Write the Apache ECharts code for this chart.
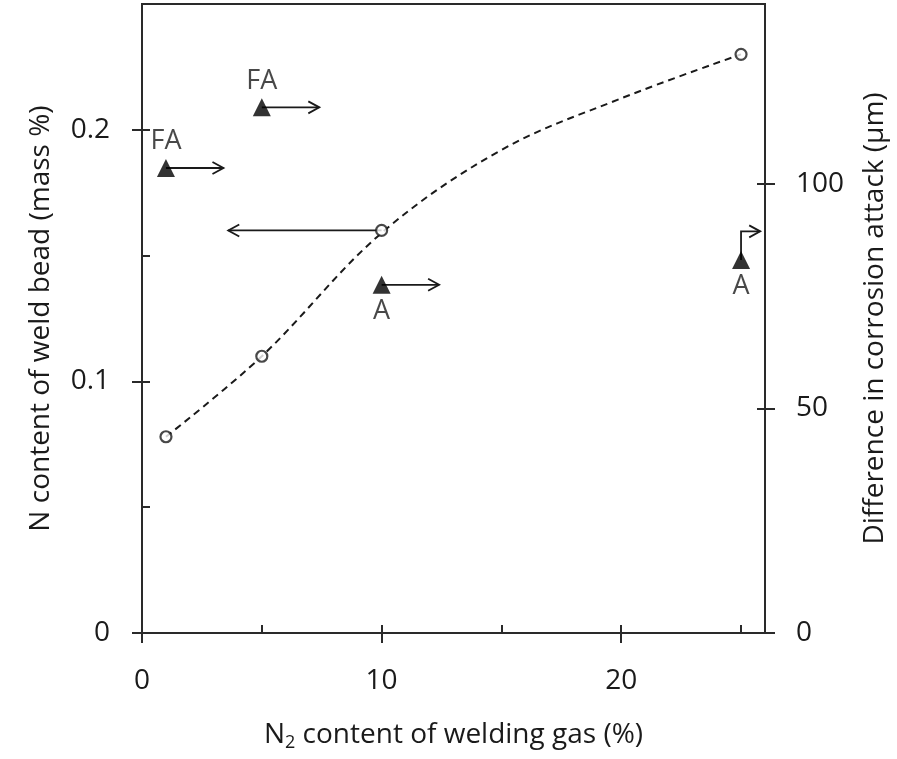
<!DOCTYPE html>
<html><head><meta charset="utf-8">
<script src="https://cdn.jsdelivr.net/npm/echarts@6/dist/echarts.min.js"></script>
<style>html,body{margin:0;padding:0;background:#fff}#c{width:897px;height:759px}</style>
</head><body><div id="c"></div>
<script>
// N2 content of welding gas (%) vs N content of weld bead (mass %)
const gasN2 = [1, 5, 10, 25];
const beadN = [0.078, 0.11, 0.16, 0.23];
// dashed trend curve
const trendGas = [1, 5, 10, 15, 20, 25];
const trendBead = [0.078, 0.11, 0.159, 0.192, 0.2125, 0.23];
// Difference in corrosion attack (µm), triangles
const triGas = [1, 5, 10, 25];
const triAttack = [103.5, 117, 77.5, 83];
const triLabels = ['FA', 'FA', 'A', 'A'];
const triLabelPos = ['top', 'top', 'bottom', 'bottom'];
// arrows (data units) on right axis
const attackArrows = [
  [[1, 103.5], [3.4, 103.5]],
  [[5, 117], [7.4, 117]],
  [[10, 77.5], [12.4, 77.5]],
  [[25, 83], [25, 89.4], [25.8, 89.4]]
];
// arrow on left axis
const beadArrows = [
  [[10, 0.16], [3.6, 0.16]]
];
const xMajor = [0, 10, 20];
const xMinor = [5, 10, 15, 20, 25];
const yLMajor = [0, 0.1, 0.2];
const yLMinor = [0.05, 0.1, 0.15, 0.2];
const yRMajor = [0, 50, 100];
const yRMinor = [50, 100];

const FONT = 'Open Sans';
const FS = 28;
const INK = '#1a1a1a';
const LINE = '#2a2a2a';
const axisLine = {show: true, lineStyle: {color: LINE, width: 2}};

function arrowRender(list) {
  return function (params, api) {
    const pts = list[params.dataIndex].map(p => api.coord(p));
    const n = pts.length;
    const a = pts[n - 2], b = pts[n - 1];
    const dx = b[0] - a[0], dy = b[1] - a[1];
    const len = Math.sqrt(dx * dx + dy * dy) || 1;
    const ux = dx / len, uy = dy / len;
    const L = 11, W = 6;
    const h1 = [b[0] - ux * L - uy * W, b[1] - uy * L + ux * W];
    const h2 = [b[0] - ux * L + uy * W, b[1] - uy * L - ux * W];
    return {
      type: 'group',
      children: [
        {type: 'polyline', shape: {points: pts}, style: {stroke: INK, lineWidth: 1.8, fill: null}},
        {type: 'polyline', shape: {points: [h1, b, h2]}, style: {stroke: INK, lineWidth: 1.8, fill: null}}
      ]
    };
  };
}

const chart = echarts.init(document.getElementById('c'));
chart.setOption({
  animation: false,
  textStyle: {fontFamily: FONT},
  grid: {left: 142, right: 131, top: 4, bottom: 126, show: true, borderColor: LINE, borderWidth: 2, backgroundColor: 'transparent'},
  xAxis: [
    {type: 'value', min: 0, max: 26, position: 'bottom', axisLine: axisLine,
      axisTick: {show: true, inside: false, length: 10, customValues: xMajor, lineStyle: {color: LINE, width: 2}},
      axisLabel: {customValues: xMajor, fontSize: FS, color: INK, margin: 34, fontFamily: FONT},
      splitLine: {show: false},
      name: 'N{sub|2} content of welding gas (%)', nameLocation: 'middle', nameGap: 85,
      nameTextStyle: {fontSize: FS, color: INK, fontFamily: FONT, rich: {sub: {fontSize: 18, verticalAlign: 'bottom', padding: [16, 0, 0, 0], color: INK, fontFamily: FONT}}}
    },
    {type: 'value', min: 0, max: 26, position: 'bottom', axisLine: {show: false},
      axisTick: {show: true, inside: true, length: 8, customValues: xMinor, lineStyle: {color: LINE, width: 2}},
      axisLabel: {show: false}, splitLine: {show: false}}
  ],
  yAxis: [
    {type: 'value', min: 0, max: 0.25, position: 'left', axisLine: axisLine,
      axisTick: {show: true, inside: false, length: 10, customValues: yLMajor, lineStyle: {color: LINE, width: 2}},
      axisLabel: {customValues: yLMajor, fontSize: FS, color: INK, margin: 32, fontFamily: FONT},
      splitLine: {show: false},
      name: 'N content of weld bead (mass %)', nameLocation: 'middle', nameRotate: 90, nameGap: 87,
      nameTextStyle: {fontSize: FS, color: INK, fontFamily: FONT}
    },
    {type: 'value', min: 0, max: 0.25, position: 'left', axisLine: {show: false},
      axisTick: {show: true, inside: true, length: 8, customValues: yLMinor, lineStyle: {color: LINE, width: 2}},
      axisLabel: {show: false}, splitLine: {show: false}},
    {type: 'value', min: 0, max: 140, position: 'right', axisLine: axisLine,
      axisTick: {show: true, inside: false, length: 10, customValues: yRMajor, lineStyle: {color: LINE, width: 2}},
      axisLabel: {customValues: yRMajor, fontSize: FS, color: INK, margin: 31, fontFamily: FONT},
      splitLine: {show: false},
      name: 'Difference in corrosion attack (\u03bcm)', nameLocation: 'middle', nameRotate: 90, nameGap: 96,
      nameTextStyle: {fontSize: FS, color: INK, fontFamily: FONT}
    },
    {type: 'value', min: 0, max: 140, position: 'right', axisLine: {show: false},
      axisTick: {show: true, inside: true, length: 8, customValues: yRMinor, lineStyle: {color: LINE, width: 2}},
      axisLabel: {show: false}, splitLine: {show: false}}
  ],
  series: [
    {type: 'line', xAxisIndex: 0, yAxisIndex: 0, data: trendGas.map((x, i) => [x, trendBead[i]]),
      smooth: 0.35, showSymbol: false, symbol: 'none',
      lineStyle: {color: INK, width: 2, type: [7, 5]}, z: 2},
    {type: 'custom', xAxisIndex: 0, yAxisIndex: 0, data: beadArrows.map(a => a[0]),
      renderItem: arrowRender(beadArrows), z: 3},
    {type: 'custom', xAxisIndex: 0, yAxisIndex: 2, data: attackArrows.map(a => a[0]),
      renderItem: arrowRender(attackArrows), z: 3},
    {type: 'scatter', xAxisIndex: 0, yAxisIndex: 0, data: gasN2.map((x, i) => [x, beadN[i]]),
      symbol: 'circle', symbolSize: 11,
      itemStyle: {color: '#fff', borderColor: INK, borderWidth: 2.2}, z: 5},
    {type: 'scatter', xAxisIndex: 0, yAxisIndex: 2,
      data: triGas.map((x, i) => ({value: [x, triAttack[i]], label: {formatter: triLabels[i], position: triLabelPos[i]}})),
      symbol: 'triangle', symbolSize: [18, 18],
      itemStyle: {color: '#000'},
      label: {show: true, fontSize: 27, color: INK, fontFamily: FONT, distance: 4}, z: 6}
  ]
});
</script></body></html>
